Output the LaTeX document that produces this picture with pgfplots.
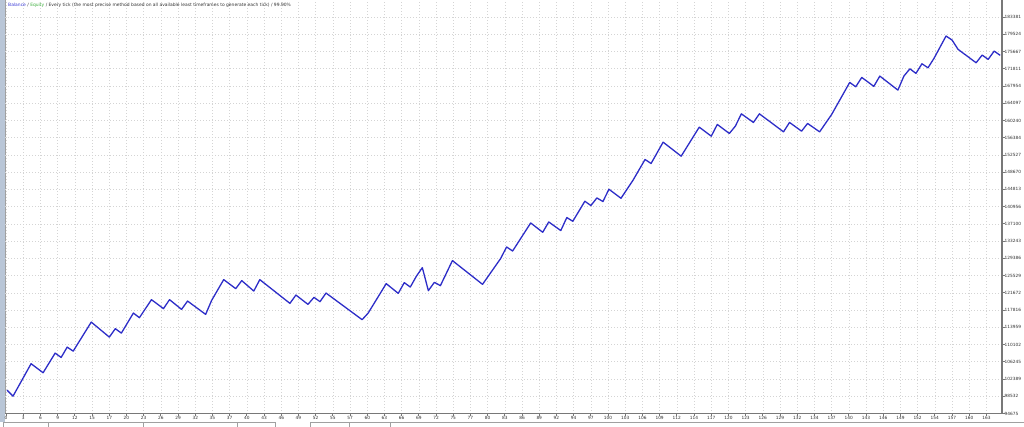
\documentclass[border=0pt]{standalone}
\usepackage{fontspec}
\setmainfont{DejaVu Sans}
\usepackage{pgfplots}
\pgfplotsset{compat=1.18}
\definecolor{balline}{RGB}{45,45,200}
\definecolor{balblue}{RGB}{60,60,215}
\definecolor{eqgreen}{RGB}{60,175,60}
\definecolor{gridgray}{RGB}{212,212,212}
\definecolor{axisgray}{RGB}{120,120,120}
\definecolor{labelgray}{RGB}{50,50,50}
\definecolor{framebar}{RGB}{185,198,215}
\definecolor{stripgray}{RGB}{160,160,160}
\begin{document}
\begin{tikzpicture}[x=1pt,y=1pt]
\useasboundingbox (0,0) rectangle (1024,427);
\fill[white] (0,0) rectangle (1024,427);
\fill[framebar] (0,5) rectangle (4.5,427);
\draw[axisgray!70, line width=0.6pt] (5.2,13.5) -- (5.2,427);
\draw[stripgray, line width=0.6pt] (3,0) rectangle (275,4.2);
\draw[stripgray, line width=0.6pt] (48,0) -- (48,4.2) (143,0) -- (143,4.2) (237,0) -- (237,4.2);
\draw[stripgray, line width=0.6pt] (310,0) rectangle (1026,4.2);
\draw[stripgray, line width=0.6pt] (349,0) -- (349,4.2) (390,0) -- (390,4.2);
\begin{axis}[
  at={(5pt,13.5pt)}, anchor=south west,
  scale only axis, width=997pt, height=413.5pt,
  xmin=-0.33, xmax=165.3,
  ymin=94675, ymax=187187,
  axis x line*=bottom, axis y line*=right,
  axis line style={draw=axisgray, line width=1.2pt},
  tick align=outside, major tick length=2.5pt,
  tick style={draw=axisgray, line width=0.8pt},
  grid=major,
  major grid style={draw=gridgray, line width=0.6pt, dash pattern=on 0.9pt off 2.1pt},
  xtick={-0.15,2.70714,...,163},
  xticklabels={0,3,6,9,12,15,17,20,23,26,29,32,35,37,40,43,46,49,52,55,57,60,63,66,69,72,75,77,80,83,86,89,92,94,97,100,103,106,109,112,114,117,120,123,126,129,132,134,137,140,143,146,149,152,154,157,160,163},
  ytick={94675,98531.78,102388.57,106245.35,110102.13,113958.91,117815.70,121672.48,125529.26,129386.04,133242.83,137099.61,140956.39,144813.17,148669.96,152526.74,156383.52,160240.30,164097.09,167953.87,171810.65,175667.43,179524.22,183381},
  yticklabels={94675,98532,102389,106245,110102,113959,117816,121672,125529,129386,133243,137100,140956,144813,148670,152527,156384,160240,164097,167954,171811,175667,179524,183381},
  xticklabel style={font=\fontsize{4.3}{5}\selectfont, inner sep=0pt, text=labelgray},
  yticklabel style={font=\fontsize{4.3}{5}\selectfont, inner sep=0pt, anchor=west, text=labelgray},
  /pgf/number format/assume math mode=true,
  clip=false,
]
\addplot[balline, line width=1.3pt, line join=round, mark=none] coordinates {
(0,99900)(1,98550)(4,105808)(6,103792)(8,108182)(9,107219)(10,109526)(11,108630)(14,115126)(17,111766)(18,113648)(19,112662)(21,117142)(22,116112)(24,120144)(26,118128)(27,120144)(29,117971)(30,119830)(33,116851)(34,119987)(36,124624)(38,122608)(39,124400)(41,122070)(42,124624)(47,119315)(48,121174)(50,119091)(51,120659)(52,119696)(53,121622)(59,115664)(60,117142)(63,123728)(65,121555)(66,123952)(67,122966)(68,125363)(69,127312)(70,122160)(71,124019)(72,123280)(74,128880)(79,123571)(82,129328)(83,131926)(84,131030)(87,137302)(89,135219)(90,137526)(92,135600)(93,138512)(94,137683)(96,142163)(97,141200)(98,142902)(99,142096)(100,144851)(102,142835)(104,146867)(106,151504)(107,150608)(109,155379)(112,152243)(115,158739)(117,156723)(118,159344)(120,157328)(121,158963)(122,161718)(124,159792)(125,161718)(129,157686)(130,159792)(132,157843)(133,159568)(135,157686)(137,161584)(140,168752)(141,167766)(142,169872)(144,167856)(145,170163)(148,167027)(149,170163)(150,171798)(151,170768)(152,172918)(153,172022)(154,174128)(156,179123)(157,178227)(158,176144)(161,173142)(162,174867)(163,173904)(164,175763)(165,174800)
};
\end{axis}
\node[anchor=west, inner sep=0pt, font=\fontsize{4.45}{5}\selectfont, text=labelgray] at (8,422) {\textcolor{balblue}{Balance} / \textcolor{eqgreen}{Equity} / Every tick (the most precise method based on all available least timeframes to generate each tick) / 99.90\%};
\end{tikzpicture}
\end{document}
